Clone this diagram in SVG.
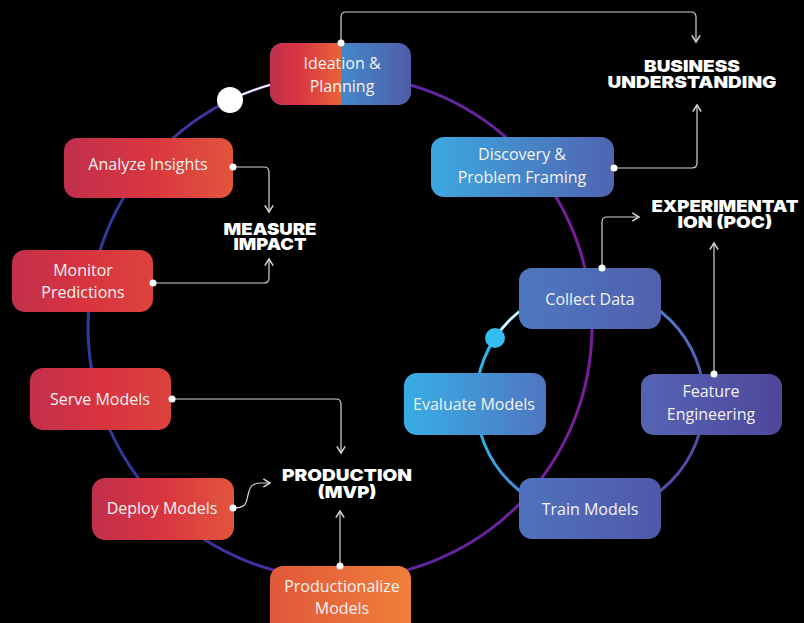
<svg xmlns="http://www.w3.org/2000/svg" width="804" height="623" viewBox="0 0 804 623">
<style>
.node-text{font-family:"Open Sans","Liberation Sans",sans-serif;font-size:16px;fill:#f2f2f2;text-anchor:middle}
.label{font-family:"Inter","Lato","Open Sans",sans-serif;font-weight:900;font-size:16.5px;fill:#ffffff;text-anchor:middle}
.conn{fill:none;stroke:#d4d4d4;stroke-width:1.2}
.dot{fill:#ffffff}
</style>
<defs>
<linearGradient id="gBig" gradientUnits="userSpaceOnUse" x1="88" y1="0" x2="592" y2="0">
<stop offset="0" stop-color="#2c3c9e"/><stop offset="0.45" stop-color="#4f2aa0"/><stop offset="1" stop-color="#7c1c9e"/>
</linearGradient>
<linearGradient id="gSmall" x1="0" y1="0.2" x2="1" y2="0.9">
<stop offset="0" stop-color="#2bbdf0"/><stop offset="0.3" stop-color="#35a8e4"/><stop offset="0.6" stop-color="#4f70c0"/><stop offset="1" stop-color="#5c3a9c"/>
</linearGradient>
<linearGradient id="gRed" x1="0" y1="0" x2="1" y2="0">
<stop offset="0" stop-color="#c0304c"/><stop offset="0.5" stop-color="#d9353f"/><stop offset="1" stop-color="#e2553d"/>
</linearGradient>
<linearGradient id="gRed2" x1="0" y1="0" x2="1" y2="0">
<stop offset="0" stop-color="#c2304b"/><stop offset="0.5" stop-color="#d8333f"/><stop offset="1" stop-color="#dd433e"/>
</linearGradient>
<linearGradient id="gIdeaL" x1="0" y1="0" x2="1" y2="0">
<stop offset="0" stop-color="#bf2f4c"/><stop offset="0.4" stop-color="#da3540"/><stop offset="1" stop-color="#e8633a"/>
</linearGradient>
<linearGradient id="gIdeaR" x1="0" y1="0" x2="1" y2="0">
<stop offset="0" stop-color="#38b6ea"/><stop offset="1" stop-color="#4f5ca8"/>
</linearGradient>
<linearGradient id="gOrange" x1="0" y1="0" x2="1" y2="0">
<stop offset="0" stop-color="#e0583b"/><stop offset="1" stop-color="#f07f3a"/>
</linearGradient>
<linearGradient id="gDisc" x1="0" y1="0" x2="1" y2="0">
<stop offset="0" stop-color="#3ca8e0"/><stop offset="1" stop-color="#5064b0"/>
</linearGradient>
<linearGradient id="gCollect" x1="0" y1="0" x2="1" y2="0">
<stop offset="0" stop-color="#4d78c0"/><stop offset="1" stop-color="#5160ad"/>
</linearGradient>
<linearGradient id="gFeat" x1="0" y1="0" x2="1" y2="0">
<stop offset="0" stop-color="#5664b3"/><stop offset="1" stop-color="#4e479b"/>
</linearGradient>
<linearGradient id="gEval" x1="0" y1="0" x2="1" y2="0">
<stop offset="0" stop-color="#38aee6"/><stop offset="1" stop-color="#4f76c0"/>
</linearGradient>
<linearGradient id="gTrain" x1="0" y1="0" x2="1" y2="0">
<stop offset="0" stop-color="#4f72be"/><stop offset="1" stop-color="#5158a8"/>
</linearGradient>
<marker id="arr" markerUnits="userSpaceOnUse" markerWidth="10" markerHeight="10" refX="5" refY="3" orient="auto" viewBox="0 0 6 6">
<path d="M1,0.5 L5,3 L1,5.5" fill="none" stroke="#d4d4d4" stroke-width="0.9"/>
</marker>
</defs>
<rect width="804" height="623" fill="#000000"/>

<g id="cycles">
<circle cx="340" cy="327" r="252" fill="none" stroke="url(#gBig)" stroke-width="3"/>
<path d="M230,100 A252,252 0 0 1 270,84.9" fill="none" stroke="#ffffff" stroke-width="2"/>
<circle cx="230" cy="100" r="13" fill="#ffffff"/>
<circle cx="590" cy="401" r="114" fill="none" stroke="url(#gSmall)" stroke-width="3"/>
<path d="M495,338 A114,114 0 0 1 519,311.8" fill="none" stroke="#ffffff" stroke-width="2"/>
<circle cx="495" cy="338" r="10" fill="#33bdf0"/>
</g>

<g id="ideation">
<rect x="270" y="43" width="141" height="62" rx="13" fill="url(#gIdeaR)"/>
<path d="M341,43 H283 A13,13 0 0 0 270,56 V92 A13,13 0 0 0 283,105 H341 Z" fill="url(#gIdeaL)"/>
<text class="node-text" x="342" y="69">Ideation &amp;</text>
<text class="node-text" x="342" y="92">Planning</text>
</g>
<g id="discovery">
<rect x="431" y="137" width="183" height="60" rx="13" fill="url(#gDisc)"/>
<text class="node-text" x="522" y="160">Discovery &amp;</text>
<text class="node-text" x="522" y="183">Problem Framing</text>
</g>
<g id="analyze">
<rect x="64" y="138" width="169" height="60" rx="13" fill="url(#gRed)"/>
<text class="node-text" x="148" y="170">Analyze Insights</text>
</g>
<g id="monitor">
<rect x="12" y="250" width="141" height="62" rx="13" fill="url(#gRed2)"/>
<text class="node-text" x="83" y="276">Monitor</text>
<text class="node-text" x="83" y="298">Predictions</text>
</g>
<g id="serve">
<rect x="30" y="368" width="141" height="62" rx="13" fill="url(#gRed2)"/>
<text class="node-text" x="100" y="405">Serve Models</text>
</g>
<g id="deploy">
<rect x="92" y="478" width="142" height="62" rx="13" fill="url(#gRed)"/>
<text class="node-text" x="162" y="514">Deploy Models</text>
</g>
<g id="productionalize">
<rect x="270" y="566" width="141" height="70" rx="13" fill="url(#gOrange)"/>
<text class="node-text" x="342" y="592">Productionalize</text>
<text class="node-text" x="342" y="614">Models</text>
</g>
<g id="collect">
<rect x="519" y="268" width="142" height="61" rx="13" fill="url(#gCollect)"/>
<text class="node-text" x="590" y="305">Collect Data</text>
</g>
<g id="feature">
<rect x="641" y="374" width="141" height="61" rx="13" fill="url(#gFeat)"/>
<text class="node-text" x="711" y="397">Feature</text>
<text class="node-text" x="711" y="420">Engineering</text>
</g>
<g id="evaluate">
<rect x="404" y="373" width="142" height="62" rx="13" fill="url(#gEval)"/>
<text class="node-text" x="474" y="410">Evaluate Models</text>
</g>
<g id="train">
<rect x="519" y="478" width="142" height="61" rx="13" fill="url(#gTrain)"/>
<text class="node-text" x="590" y="515">Train Models</text>
</g>

<g id="label-business"><text class="label"><tspan x="692" y="72" textLength="96" lengthAdjust="spacingAndGlyphs">BUSINESS</tspan><tspan x="692" y="88" textLength="169" lengthAdjust="spacingAndGlyphs">UNDERSTANDING</tspan></text></g>
<g id="label-measure"><text class="label"><tspan x="270" y="235" textLength="93" lengthAdjust="spacingAndGlyphs">MEASURE</tspan><tspan x="270" y="250" textLength="73" lengthAdjust="spacingAndGlyphs">IMPACT</tspan></text></g>
<g id="label-experimentation"><text class="label"><tspan x="725" y="212" textLength="147" lengthAdjust="spacingAndGlyphs">EXPERIMENTAT</tspan><tspan x="725" y="228" textLength="95" lengthAdjust="spacingAndGlyphs">ION (POC)</tspan></text></g>
<g id="label-production"><text class="label"><tspan x="347" y="481" textLength="130" lengthAdjust="spacingAndGlyphs">PRODUCTION</tspan><tspan x="347" y="498" textLength="59" lengthAdjust="spacingAndGlyphs">(MVP)</tspan></text></g>

<g id="connectors">
<path class="conn" d="M341,43 V17 Q341,12 346,12 H691 Q696,12 696,17 V42" marker-end="url(#arr)"/>
<path class="conn" d="M614,168 H692 Q697,168 697,163 V105" marker-end="url(#arr)"/>
<path class="conn" d="M233,167 H264 Q269,167 269,172 V212" marker-end="url(#arr)"/>
<path class="conn" d="M153,283 H264 Q269,283 269,278 V259" marker-end="url(#arr)"/>
<path class="conn" d="M602,268 V222 Q602,217 607,217 H639" marker-end="url(#arr)"/>
<path class="conn" d="M714,374 V243" marker-end="url(#arr)"/>
<path class="conn" d="M172,399 H336 Q341,399 341,404 V453" marker-end="url(#arr)"/>
<path class="conn" d="M233,508 C247,508 246,503 248,495 C250,486 252,483 262,483 H270" marker-end="url(#arr)"/>
<path class="conn" d="M340,566 V511" marker-end="url(#arr)"/>
<circle class="dot" cx="341" cy="43" r="3.5"/>
<circle class="dot" cx="614" cy="168" r="3.5"/>
<circle class="dot" cx="233" cy="167" r="3.5"/>
<circle class="dot" cx="153" cy="283" r="3.5"/>
<circle class="dot" cx="602" cy="268" r="3.5"/>
<circle class="dot" cx="714" cy="374" r="3.5"/>
<circle class="dot" cx="172" cy="399" r="3.5"/>
<circle class="dot" cx="233" cy="508" r="3.5"/>
<circle class="dot" cx="340" cy="566" r="3.5"/>
</g>
</svg>
